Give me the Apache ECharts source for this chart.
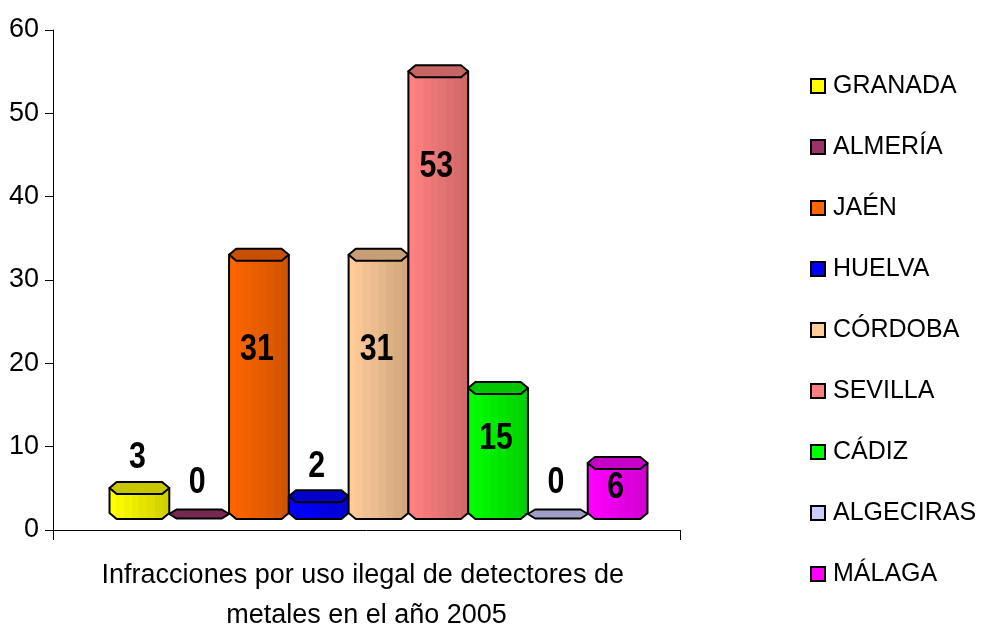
<!DOCTYPE html>
<html>
<head>
<meta charset="utf-8">
<script src="https://cdn.jsdelivr.net/npm/echarts@6/dist/echarts.min.js"></script>
<style>
  html, body { margin: 0; padding: 0; background: #fff; }
  #chart { width: 981px; height: 632px; }
</style>
</head>
<body>
<div id="chart"></div>
<script>
// Infracciones por uso ilegal de detectores de metales (2005), por provincia
const categories = ['Infracciones por uso ilegal de detectores de metales en el año 2005'];
const provinces = ['GRANADA', 'ALMERÍA', 'JAÉN', 'HUELVA', 'CÓRDOBA', 'SEVILLA', 'CÁDIZ', 'ALGECIRAS', 'MÁLAGA'];
const values = [3, 0, 31, 2, 31, 53, 15, 0, 6];
const colors = ['#FFFF00', '#993366', '#FF6600', '#0000FF', '#FFCC99', '#FF8080', '#00FF00', '#CCCCFF', '#FF00FF'];
const yMin = 0, yMax = 60, yStep = 10;

const FONT = "'Liberation Sans', Arial, sans-serif";

// cylinder drawing parameters
const GROUP_RATIO = 0.858;   // share of the category band used by the bars
const DEPTH_X = 12;          // perspective shift of the 3D bars
const DEPTH_Y = 17;
const CAP_H = 6;             // half height of the cap outline
const FACETS = 8;

function shade(hex, f) {
  const n = parseInt(hex.slice(1), 16);
  const r = Math.round(((n >> 16) & 255) * f);
  const g = Math.round(((n >> 8) & 255) * f);
  const b = Math.round((n & 255) * f);
  return 'rgb(' + r + ',' + g + ',' + b + ')';
}

function bodyGradient(color) {
  const stops = [];
  for (let i = 0; i < FACETS; i++) {
    const c = shade(color, 1 - 0.026 * i);
    stops.push({ offset: i / FACETS, color: c });
    stops.push({ offset: (i + 1) / FACETS, color: c });
  }
  return new echarts.graphic.LinearGradient(0, 0, 1, 0, stops);
}

function capPoints(x, w, cy, hh) {
  return [
    [x, cy], [x + 0.12 * w, cy - hh], [x + 0.88 * w, cy - hh],
    [x + w, cy], [x + 0.88 * w, cy + hh], [x + 0.12 * w, cy + hh]
  ];
}

function renderCylinder(params, api) {
  const idx = params.seriesIndex;
  const v = api.value(1);
  const base = api.coord([0, 0]);
  const topPt = api.coord([0, v]);
  const band = api.size([1, 0])[0];
  const groupW = band * GROUP_RATIO;
  const w = groupW / provinces.length;
  const x = base[0] - groupW / 2 + idx * w + DEPTH_X;
  const yBase = base[1] - DEPTH_Y;
  const yTop = topPt[1] - DEPTH_Y;
  const color = colors[idx];
  const h = yBase - yTop;
  const children = [];

  if (h > 0.5) {
    children.push({
      type: 'polygon',
      shape: {
        points: [
          [x, yTop], [x, yBase], [x + 0.12 * w, yBase + CAP_H],
          [x + 0.88 * w, yBase + CAP_H], [x + w, yBase], [x + w, yTop]
        ]
      },
      style: { fill: bodyGradient(color), stroke: '#000', lineWidth: 2, lineJoin: 'round' }
    });
  }
  children.push({
    type: 'polygon',
    shape: { points: capPoints(x, w, h > 0.5 ? yTop : yTop + 1, h > 0.5 ? CAP_H : CAP_H - 1.5) },
    style: { fill: shade(color, 0.78), stroke: '#000', lineWidth: 2, lineJoin: 'round' }
  });

  // value label: inside the taller bars, above the short ones
  const inside = v >= 5;
  const ly = inside ? yTop + Math.min(Math.max(0.41 * h, 25), 95) : yTop - 30;
  children.push({
    type: 'text',
    x: x + w / 2 - 2,
    y: ly,
    scaleX: 0.82,
    style: {
      text: String(v), x: 0, y: 0,
      align: 'center', verticalAlign: 'middle',
      fontFamily: FONT, fontWeight: 'bold', fontSize: 37, fill: '#000'
    }
  });
  return { type: 'group', children: children };
}

const series = provinces.map((name, i) => ({
  name: name,
  type: 'custom',
  renderItem: renderCylinder,
  itemStyle: { color: colors[i] },
  data: [[0, values[i]]],
  z: 2
}));

const chart = echarts.init(document.getElementById('chart'), null, { renderer: 'canvas' });
chart.setOption({
  animation: false,
  backgroundColor: '#ffffff',
  grid: { left: 53, right: 301, top: 30, bottom: 102, containLabel: false, outerBoundsMode: 'none' },
  legend: {
    orient: 'vertical',
    left: 805,
    top: 66,
    data: provinces,
    icon: 'rect',
    itemWidth: 14,
    itemHeight: 14,
    itemGap: 31,
    itemStyle: { borderColor: '#000', borderWidth: 2 },
    textStyle: { fontFamily: FONT, fontSize: 25, color: '#000', lineHeight: 30, padding: [0, 0, 0, 3] },
    selectedMode: false
  },
  xAxis: {
    type: 'category',
    data: categories,
    boundaryGap: true,
    axisLine: { lineStyle: { color: '#000', width: 1 } },
    axisTick: { show: true, length: 10, lineStyle: { color: '#000' } },
    axisLabel: {
      margin: 26, fontFamily: FONT, fontSize: 27, color: '#000', lineHeight: 40,
      width: 560, overflow: 'break', interval: 0
    },
    splitLine: { show: false }
  },
  yAxis: {
    type: 'value',
    min: yMin, max: yMax, interval: yStep,
    axisLine: { show: true, lineStyle: { color: '#000', width: 1 } },
    axisTick: { show: true, length: 8, lineStyle: { color: '#000' } },
    axisLabel: { margin: 14, fontFamily: FONT, fontSize: 27, color: '#000' },
    splitLine: { show: false }
  },
  series: series
});
</script>
</body>
</html>
